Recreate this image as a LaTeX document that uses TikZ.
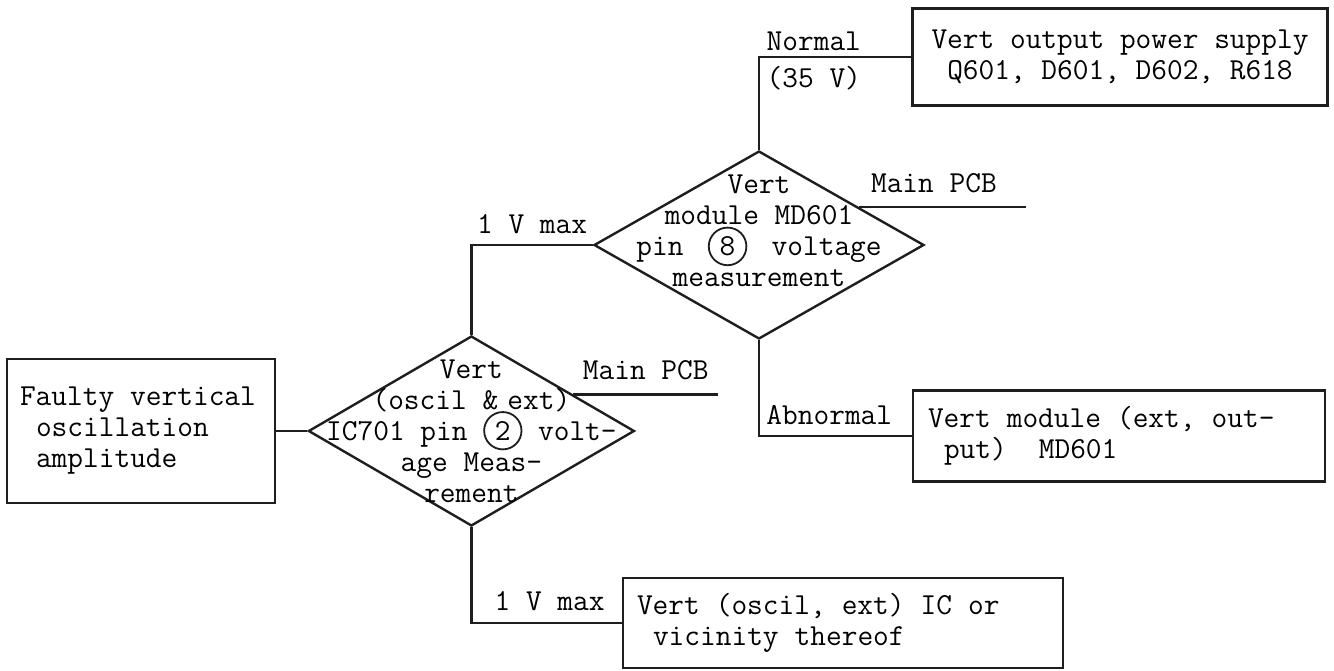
\documentclass[tikz,border=0pt]{standalone}
\usepackage{fontspec}
\usepackage{tikz}
\usetikzlibrary{positioning, shapes.geometric, calc}
\definecolor{inkDark}{HTML}{1E1E1E}
\tikzset{
  wireK/.style={draw=inkDark, line width=2.4pt},
  boxP/.style={rectangle, draw=inkDark, line width=2.4pt, inner ysep=6pt},
  boxL/.style={boxP, align=left,
    execute at begin node={\spaceskip=.525em\xspaceskip=.525em\relax}},
  diamQ/.style={diamond, draw=inkDark, line width=2.4pt, inner sep=0pt},
  textQ/.style={align=center, inner sep=0pt},
  tagL/.style={inner sep=0pt},
}
% circled pin number
\newcommand{\pinno}[1]{\smash{\tikz[baseline=(pn.base)]\node[circle, draw=inkDark,
  line width=1.8pt, inner sep=4.5pt] (pn) {#1};}}

\begin{document}
\begin{tikzpicture}[x=1pt, y=-1pt, font=\ttfamily\fontsize{30.5}{31}\selectfont]
  \useasboundingbox (0,0) rectangle (1334,671);

  \node[boxL, minimum height=144pt, text width=242pt, inner xsep=13pt] (fault) at (141,431)
    {Faulty vertical\\\hspace*{.525em}oscillation\\\hspace*{.525em}amplitude};

  \node[diamQ, minimum width=326pt, minimum height=190pt, right=31pt of fault] (dA) {};
  \node[textQ] (tA) at (dA.center)
    {Vert\\(oscil \&\hspace{.3em}ext)\\IC701 pin \pinno{2} volt-\\age Meas-\\rement};

  \node[diamQ, minimum width=330pt, minimum height=188pt] (dB) at (759,245) {};
  \node[textQ] (tB) at ([yshift=14pt]dB.center)
    {Vert\\module MD601\\pin\hspace{.8em}\pinno{8}\hspace{.8em}voltage\\measurement};

  \node[boxP, minimum width=415pt, minimum height=97pt, align=center] (oTop) at (1120,57)
    {Vert output power supply\\Q601, D601, D602, R618};
  \node[boxL, minimum height=91pt, text width=382pt, inner xsep=15pt] (oMid) at (1119,436)
    {Vert module (ext, out-\\\hspace*{.525em}put)\ \ MD601};
  \node[boxL, minimum height=90pt, text width=412pt, inner xsep=14pt] (oBot) at (843,623)
    {Vert (oscil, ext) IC or\\\hspace*{.525em}vicinity thereof};

  \draw[wireK] (fault) -- (dA);
  \draw[wireK] (dA.north) |- node[tagL, above=10pt, pos=.75] (vmaxA) {1 V max} (dB.west);
  \draw[wireK] (dB.north) |- node[tagL, above=5pt, pos=.68] (nrm) {Normal}
    node[tagL, below=8pt, pos=.68] (v35) {(35 V)} (oTop.west);
  \draw[wireK] (dB.south) |- node[tagL, above=10pt, pos=.73] (abn) {Abnormal} (oMid.west);
  \draw[wireK] (dA.south) |- node[tagL, above=11pt, pos=.76] (vmaxB) {1 V max} (oBot.west);

  \coordinate (pcbA) at ($(dA.north)!.62!(dA.east)$);
  \coordinate (pcbAend) at ($(pcbA)+(145,0)$);
  \draw[wireK] (pcbA) -- node[tagL, above=13pt] (pcbAtxt) {Main PCB} (pcbAend);
  \coordinate (pcbB) at ($(dB.north)!.6!(dB.east)$);
  \coordinate (pcbBend) at ($(pcbB)+(167,0)$);
  \draw[wireK] (pcbB) -- node[tagL, above=13pt, pos=.45] (pcbBtxt) {Main PCB} (pcbBend);
\end{tikzpicture}
\end{document}
